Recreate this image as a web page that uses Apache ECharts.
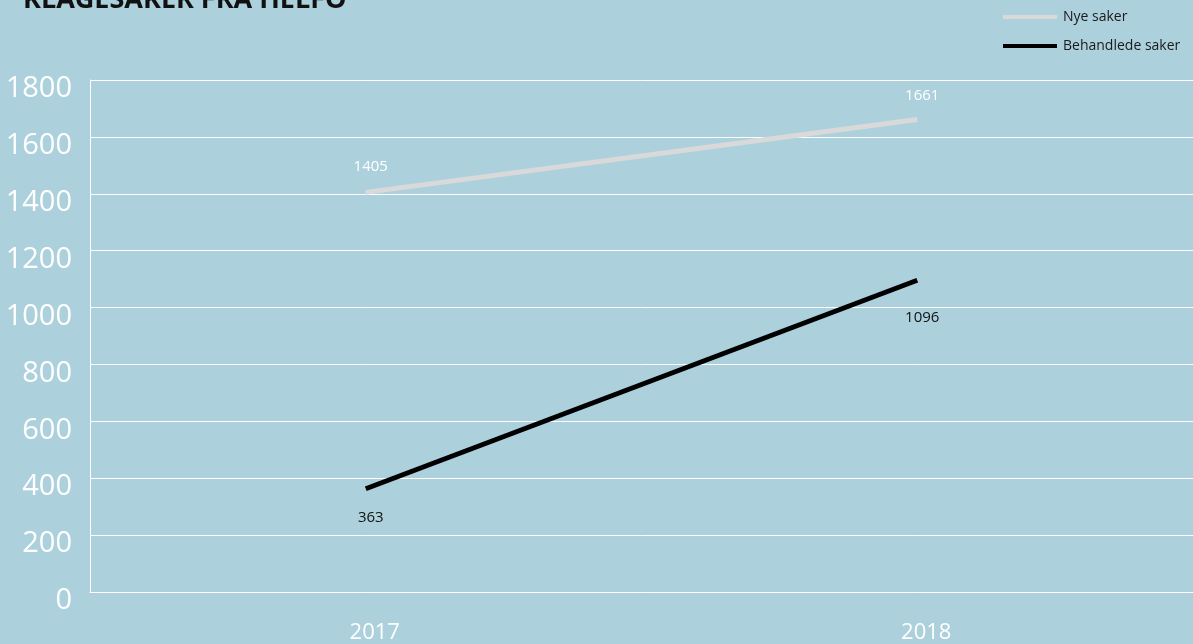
<!DOCTYPE html>
<html>
<head>
<meta charset="utf-8">
<script src="https://cdn.jsdelivr.net/npm/echarts@6/dist/echarts.min.js"></script>
<style>
    html, body { margin: 0; padding: 0; background: #acd1dd; }
    #chart { width: 1193px; height: 644px; }
</style>
</head>
<body>
<div id="chart"></div>
<script>
// data
const years = ['2017', '2018'];
const nyeSaker = [1405, 1661];
const behandledeSaker = [363, 1096];
const yTicks = [0, 200, 400, 600, 800, 1000, 1200, 1400, 1600, 1800];

// 标签距离（第二个点的标签在参考图中离线更远）
const nyeData = nyeSaker.map((v, i) => ({ value: v, label: { distance: i === 0 ? 18 : 16 } }));
const behData = behandledeSaker.map((v, i) => ({ value: v, label: { distance: i === 0 ? 21 : 30 } }));

const chart = echarts.init(document.getElementById('chart'));
chart.setOption({
    backgroundColor: '#acd1dd',
    textStyle: { fontFamily: 'Open Sans' },
    title: {
        text: 'KLAGESAKER FRA HELFO',
        left: 18,
        top: -18,
        textStyle: { fontSize: 27, fontWeight: 'bold', color: '#111', fontFamily: 'Open Sans' }
    },
    legend: {
        orient: 'vertical',
        left: 998,
        top: 5,
        itemWidth: 54,
        itemHeight: 4,
        itemGap: 15,
        icon: 'rect',
        textStyle: { fontSize: 14, color: '#1a1a1a', padding: [0, 0, 0, 1] },
        data: ['Nye saker', 'Behandlede saker']
    },
    grid: { left: 90, right: 0, top: 80, bottom: 51 },
    xAxis: {
        type: 'category',
        data: years,
        axisLine: { show: true, lineStyle: { color: '#ffffff', width: 1 } },
        axisTick: { show: false },
        axisLabel: { color: '#ffffff', fontSize: 22, margin: 30, padding: [0, 0, 0, 18] }
    },
    yAxis: {
        type: 'value',
        min: yTicks[0],
        max: yTicks[yTicks.length - 1],
        interval: 200,
        axisLine: { show: true, lineStyle: { color: '#ffffff', width: 1 } },
        axisTick: { show: false },
        splitLine: { lineStyle: { color: '#ffffff', width: 1 } },
        axisLabel: {
            color: '#ffffff',
            fontSize: 29,
            margin: 18,
            verticalAlign: 'top',
            lineHeight: 18,
            formatter: v => String(v)
        }
    },
    series: [
        {
            name: 'Nye saker',
            type: 'line',
            data: nyeData,
            symbol: 'circle',
            symbolSize: 0,
            color: '#d9d9d9',
            lineStyle: { color: '#d9d9d9', width: 5 },
            label: {
                show: true,
                position: 'top',
                color: '#ffffff',
                fontSize: 15,
                offset: [5, 0]
            }
        },
        {
            name: 'Behandlede saker',
            type: 'line',
            data: behData,
            symbol: 'circle',
            symbolSize: 0,
            color: '#000000',
            lineStyle: { color: '#000000', width: 5 },
            label: {
                show: true,
                position: 'bottom',
                color: '#111111',
                fontSize: 15,
                offset: [5, 0]
            }
        }
    ]
});
</script>
</body>
</html>
